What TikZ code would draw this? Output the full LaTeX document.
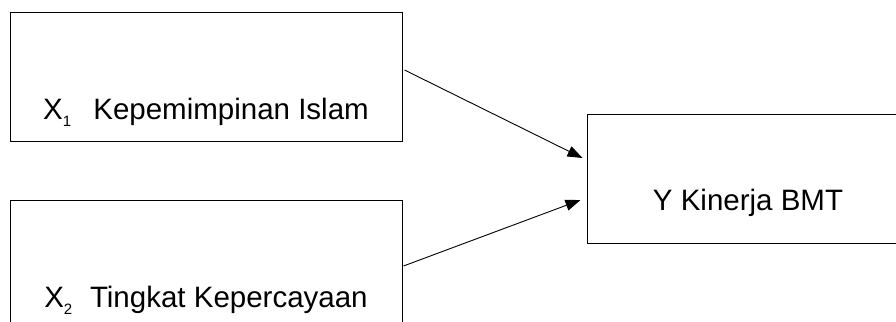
\documentclass[tikz,border=0pt]{standalone}
\usepackage{fontspec}
\setmainfont{Liberation Sans}
\usetikzlibrary{arrows.meta}
\newcommand{\subx}[1]{\raisebox{-7pt}{\fontsize{15}{15}\selectfont #1}}
\begin{document}
\begin{tikzpicture}[x=1pt,y=-1pt,
  varbox/.style={draw=black, line width=1pt, inner sep=0pt, minimum width=391.5pt, minimum height=128pt},
  ybox/.style={draw=black, line width=1pt, inner sep=0pt, minimum width=322pt, minimum height=129pt},
  lbl/.style={inner sep=0pt, anchor=base, font=\fontsize{29.5}{32}\selectfont},
  conn/.style={line width=0.9pt, -{Triangle[length=15pt,width=11pt]}}]
\useasboundingbox (0,0) rectangle (896,321);
\clip (0,0) rectangle (896,321);
\fill[white] (0,0) rectangle (896,321);
\node[varbox] (x1) at (206.25,77) {};
\node[varbox] (x2) at (206.25,264) {};
\node[ybox] (y) at (748,178.5) {};
\node[lbl] (t1) at (206,119) {X\subx{1}\hspace{0.75em}Kepemimpinan Islam};
\node[lbl] (t2) at (206,307) {X\subx{2}\hspace{0.6em}Tingkat Kepercayaan};
\node[lbl] (t3) at (748,210) {Y Kinerja BMT};
\draw[conn] ([xshift=2pt,yshift=7pt]x1.east) -- ([xshift=-4pt,yshift=20.5pt]y.west);
\draw[conn] ([xshift=1pt,yshift=-2pt]x2.east) -- ([xshift=-6pt,yshift=-21.5pt]y.west);
\end{tikzpicture}
\end{document}
